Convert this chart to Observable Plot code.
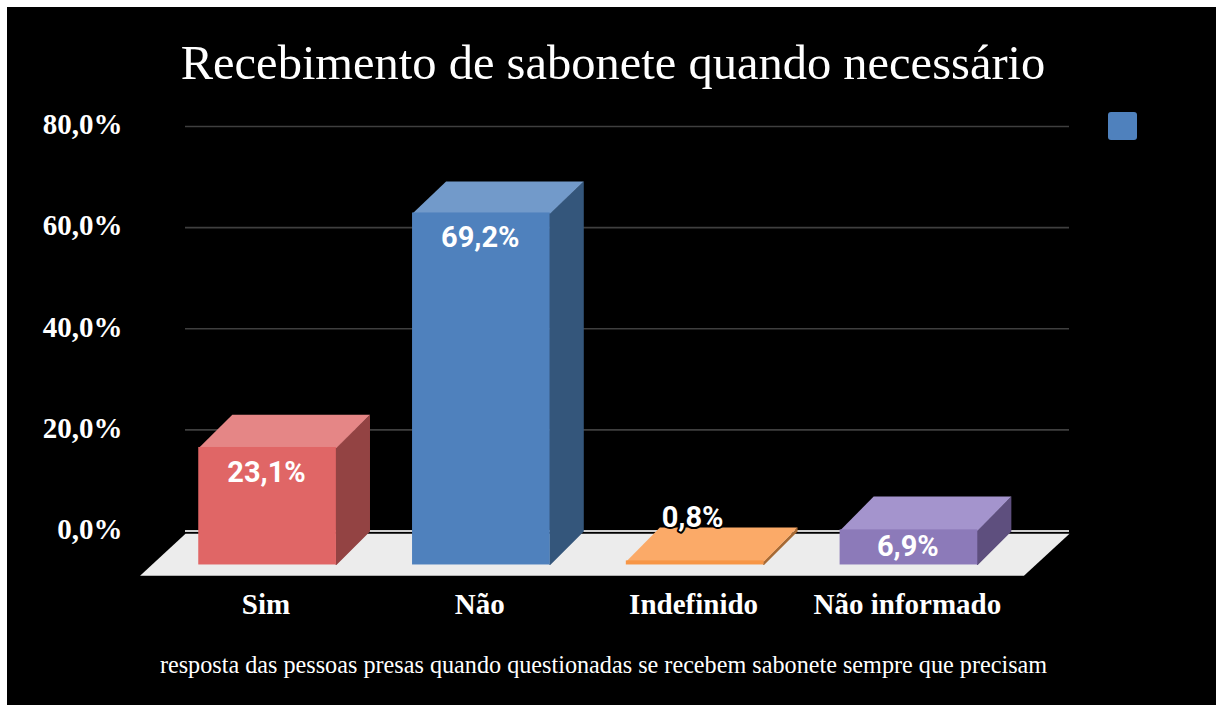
<!DOCTYPE html>
<html lang="pt">
<head>
<meta charset="utf-8">
<script src="https://cdn.jsdelivr.net/npm/d3@7"></script>
<script src="https://cdn.jsdelivr.net/npm/@observablehq/plot@0.6"></script>
<style>
html,body{margin:0;padding:0;background:#fff;width:1216px;height:705px;overflow:hidden}
#panel{position:absolute;left:7px;top:7px;width:1209px;height:698px;background:#000;overflow:hidden}
#chart{position:absolute;left:-7px;top:-7px;width:1216px}
figure{margin:0!important;max-width:none!important;background:transparent}
figure h2{margin:0;padding-top:36px;height:54px;text-align:center;width:1226px;font:400 48.5px/54px "Liberation Serif",serif;color:#fff;box-sizing:content-box}
figure figcaption{margin:0;position:absolute;top:650px;left:0;width:1207px;text-align:center;font:400 24.2px/30px "Liberation Serif",serif;color:#fff}
#swatch{position:absolute;left:1101px;top:105px;width:29px;height:28px;background:#4f81bd;border-radius:3px}
</style>
</head>
<body>
<div id="panel"><div id="chart"></div><div id="swatch"></div></div>
<script>
const titleText = "Recebimento de sabonete quando necessário";
const captionText = "resposta das pessoas presas quando questionadas se recebem sabonete sempre que precisam";
const categories = ["Sim", "Não", "Indefinido", "Não informado"];
const values = [23.1, 69.2, 0.8, 6.9];
const gridTicks = [0, 20, 40, 60, 80];
const frontColors = ["#e06666", "#4f81bd", "#f79646", "#8c7ab9"];
const topColors = ["#e58686", "#729aca", "#fbaa68", "#a494cd"];
const sideColors = ["#934343", "#34567b", "#a66a35", "#5e4f7e"];

// 3D projection, in scale units: how far the front plane sits from the back wall
const depthX = 0.157, depthY = 6.62, halfBar = 0.322, seam = 0.004, frontScale = 1.006;
const floorBackY = -0.45, floorFrontY = -8.75, floorFrontLeft = -0.5985, floorFrontRight = 3.536;
const xDomain = [-0.386, 3.749];

const bars = categories.map((name, i) => ({name, i, value: values[i],
  x1: i - halfBar - 0.002, x2: i + halfBar - 0.002, y0: -depthY,
  y1: values[i] * frontScale - depthY, yb: values[i]}));

const face = (id, fill, pts) => pts.map(([x, y]) => ({id, fill, x, y}));
const topFaces = bars.flatMap((b, i) => face("t" + i, topColors[i], [
  [b.x1, b.y1 - 0.1], [b.x2, b.y1 - 0.1], [b.x2 + depthX, b.yb], [b.x1 + depthX, b.yb]]));
const sideFaces = bars.flatMap((b, i) => face("s" + i, sideColors[i], [
  [b.x2 - seam, b.y0], [b.x2, b.y0], [b.x2 + depthX, 0], [b.x2 + depthX, b.yb], [b.x2, b.y1], [b.x2 - seam, b.y1]]));
const floor = face("floor", "#ececec", [
  [xDomain[0], floorBackY], [xDomain[1], floorBackY], [floorFrontRight, floorFrontY], [floorFrontLeft, floorFrontY]]);

const labelDy = v => v >= 10 ? 25 : v >= 2 ? 17 : -43;
const labelDx = v => v >= 2 ? -1.5 : -3;
const fmt = new Intl.NumberFormat("pt-BR", {minimumFractionDigits: 1, maximumFractionDigits: 1});
const pct = v => fmt.format(v) + "%";
const polygon = data => Plot.line(data, {x: "x", y: "y", z: "id", fill: "fill", stroke: "none"});

const plot = Plot.plot({
  title: titleText,
  caption: captionText,
  width: 1216,
  height: 545,
  marginTop: 36.5,
  marginBottom: 104,
  marginLeft: 185,
  marginRight: 147,
  style: {background: "transparent", color: "#fff", overflow: "visible"},
  x: {type: "linear", domain: xDomain},
  y: {domain: [0, 80]},
  color: {type: "identity"},
  marks: [
    Plot.ruleY(gridTicks.filter(d => d > 0), {stroke: "#3f3f3f", strokeWidth: 1.6, dy: -0.5}),
    Plot.ruleY([0], {stroke: "#d0d0d0", strokeWidth: 2, dy: -0.5}),
    polygon(floor),
    polygon(sideFaces),
    polygon(topFaces),
    Plot.rect(bars, {x1: "x1", x2: "x2", y1: "y0", y2: "y1", fill: (d, i) => frontColors[i]}),
    Plot.axisY({ticks: gridTicks, tickFormat: pct, tickSize: 0, tickPadding: 63, label: null, dy: -2,
      fontFamily: "Liberation Serif", fontWeight: 700, fontSize: 29, fill: "#fff"}),
    Plot.axisX({ticks: [0, 1, 2, 3], tickFormat: i => categories[i], tickSize: 0, tickPadding: 62, label: null,
      fontFamily: "Liberation Serif", fontWeight: 700, fontSize: 29, fill: "#fff", dx: -2}),
    ...bars.map(b => Plot.text([b], {x: "i", y: "y1", text: d => pct(d.value), dy: labelDy(b.value), dx: labelDx(b.value),
      fontFamily: "Roboto", fontWeight: 700, fontSize: 29, fill: "#fff",
      stroke: b.value < 2 ? "#000" : "none", strokeWidth: 4, paintOrder: "stroke"}))
  ]
});
document.getElementById("chart").appendChild(plot);
</script>
</body>
</html>
